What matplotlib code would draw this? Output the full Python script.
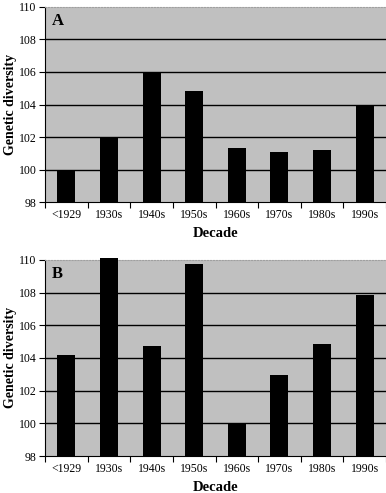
import matplotlib.pyplot as plt
from matplotlib.ticker import MultipleLocator

plt.rcParams['font.family'] = ['Liberation Serif', 'DejaVu Serif']

decades = ['<1929', '1930s', '1940s', '1950s', '1960s', '1970s', '1980s', '1990s']
diversity_a = [100.0, 102.0, 106.0, 104.85, 101.3, 101.1, 101.2, 104.0]
diversity_b = [104.15, 110.1, 104.7, 109.75, 100.0, 102.95, 104.85, 107.85]

fig = plt.figure(figsize=(3.86, 4.93), dpi=100)
ax_a = fig.add_axes([0.1166, 0.590, 0.8834, 0.396])
ax_b = fig.add_axes([0.1166, 0.075, 0.8834, 0.398])

for ax, vals, tag in [(ax_a, diversity_a, 'A'), (ax_b, diversity_b, 'B')]:
    x = range(len(decades))
    ax.set_facecolor('#c0c0c0')
    ax.bar(x, [v - 98 for v in vals], bottom=98, width=0.42, color='black',
           zorder=3, clip_on=False)
    ax.set_ylim(98, 110)
    ax.set_xlim(-0.5, len(decades) - 0.5)
    ax.yaxis.set_major_locator(MultipleLocator(2))
    for g in range(100, 110, 2):
        ax.axhline(g, color='black', lw=1.0, zorder=2)
    ax.set_xticks(list(x))
    ax.set_xticklabels(decades, fontsize=8.5)
    ax.set_xticks([i + 0.5 for i in range(-1, len(decades))], minor=True)
    ax.tick_params(axis='x', which='major', length=0, pad=5)
    ax.tick_params(axis='x', which='minor', length=4, width=0.8)
    ax.tick_params(axis='y', labelsize=8.5, length=4, width=0.8, pad=2)
    ax.spines['right'].set_visible(False)
    ax.spines['top'].set_color('#a0a0a0')
    ax.spines['top'].set_linestyle(':')
    ax.spines['left'].set_linewidth(0.8)
    ax.spines['bottom'].set_linewidth(0.8)
    ax.set_ylabel('Genetic diversity', fontsize=10, fontweight='bold')
    ax.yaxis.set_label_coords(-0.082, 0.5)
    ax.set_xlabel('Decade', fontsize=10.5, fontweight='bold', labelpad=4)
    ax.text(0.02, 0.97, tag, transform=ax.transAxes, fontsize=12,
            fontweight='bold', va='top', ha='left', zorder=4)

fig.savefig('out.png', dpi=100)
